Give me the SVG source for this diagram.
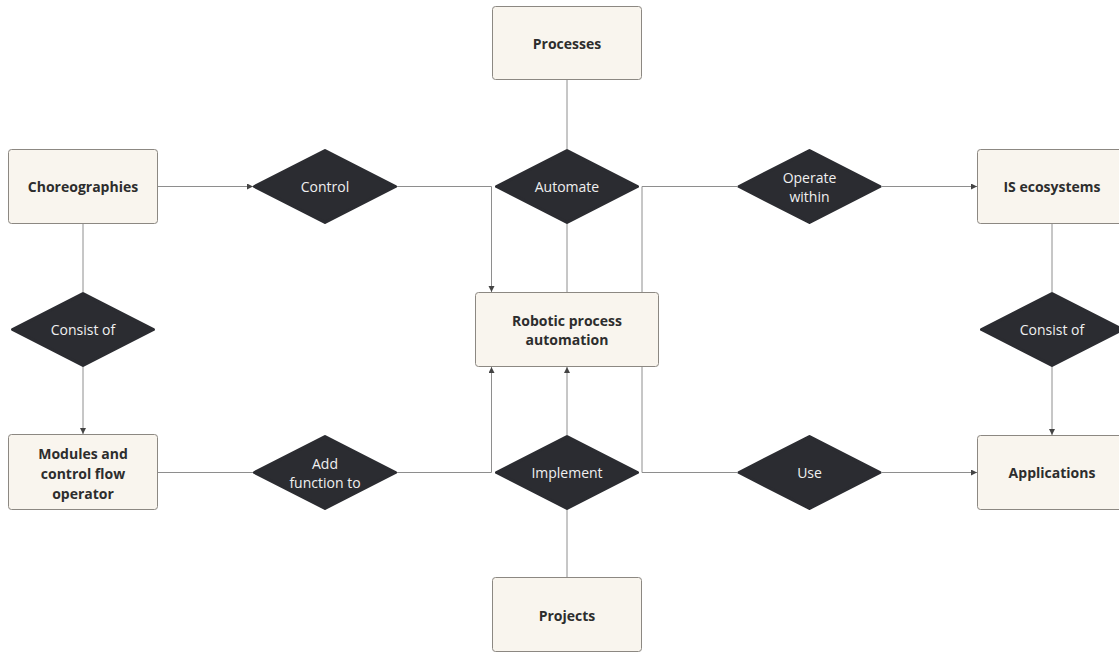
<svg xmlns="http://www.w3.org/2000/svg" width="1119" height="654" viewBox="0 0 1119 654">
  <style>
    .box { fill: #f9f5ee; stroke: #8c8882; stroke-width: 1; }
    .dia { fill: #2b2c31; stroke: #2b2c31; stroke-width: 3; stroke-linejoin: round; }
    .bt { font-family: "Open Sans", "Noto Sans", sans-serif; font-size: 14px; font-weight: 700; fill: #2d2d2d; text-anchor: middle; dominant-baseline: central; }
    .dt { font-family: "Open Sans", "Noto Sans", sans-serif; font-size: 14px; font-weight: 400; fill: #f0f0f0; text-anchor: middle; dominant-baseline: central; }
    .ln { fill: none; stroke: #8e8e8e; stroke-width: 1; }
  </style>
  <defs>
    <marker id="arr" markerUnits="userSpaceOnUse" markerWidth="8" markerHeight="8" refX="6" refY="3" orient="auto">
      <path d="M0,0 L6,3 L0,6 Z" fill="#444"/>
    </marker>
  </defs>
  <rect width="1119" height="654" fill="#ffffff"/>

  <g id="connectors">
    <path class="ln" d="M158,186.5 H253" marker-end="url(#arr)"/>
    <path class="ln" d="M397,186.5 H491.5 V292" marker-end="url(#arr)"/>
    <path class="ln" d="M567,80 V149"/>
    <path class="ln" d="M567,224 V292"/>
    <path class="ln" d="M642,292 V186.5 H737"/>
    <path class="ln" d="M882,186.5 H977" marker-end="url(#arr)"/>
    <path class="ln" d="M1052,224 V292"/>
    <path class="ln" d="M1052,367 V435" marker-end="url(#arr)"/>
    <path class="ln" d="M83,224 V292"/>
    <path class="ln" d="M83,367 V434" marker-end="url(#arr)"/>
    <path class="ln" d="M158,472.5 H253"/>
    <path class="ln" d="M397,472.5 H491.5 V367" marker-end="url(#arr)"/>
    <path class="ln" d="M567,577 V510"/>
    <path class="ln" d="M567,435 V367" marker-end="url(#arr)"/>
    <path class="ln" d="M642,367 V472.5 H737"/>
    <path class="ln" d="M882,472.5 H977" marker-end="url(#arr)"/>
  </g>

  <g id="processes">
    <rect class="box" x="492.5" y="6.5" width="149" height="73" rx="3"/>
    <text class="bt" x="567" y="43">Processes</text>
  </g>
  <g id="choreographies">
    <rect class="box" x="8.5" y="149.5" width="149" height="74" rx="3"/>
    <text class="bt" x="83" y="186.5">Choreographies</text>
  </g>
  <g id="is-ecosystems">
    <rect class="box" x="977.5" y="149.5" width="149" height="74" rx="3"/>
    <text class="bt" x="1052" y="186.5">IS ecosystems</text>
  </g>
  <g id="rpa">
    <rect class="box" x="475.5" y="292.5" width="183" height="74" rx="3"/>
    <text class="bt" x="567" y="320">Robotic process</text>
    <text class="bt" x="567" y="339.5">automation</text>
  </g>
  <g id="modules">
    <rect class="box" x="8.5" y="434.5" width="149" height="75" rx="3"/>
    <text class="bt" x="83" y="453">Modules and</text>
    <text class="bt" x="83" y="473">control flow</text>
    <text class="bt" x="83" y="493">operator</text>
  </g>
  <g id="applications">
    <rect class="box" x="977.5" y="435.5" width="149" height="74" rx="3"/>
    <text class="bt" x="1052" y="472.5">Applications</text>
  </g>
  <g id="projects">
    <rect class="box" x="492.5" y="577.5" width="149" height="74" rx="3"/>
    <text class="bt" x="567" y="615">Projects</text>
  </g>

  <g id="control">
    <polygon class="dia" points="325,150.5 395.5,186.5 325,222.5 254.5,186.5"/>
    <text class="dt" x="325" y="186.5">Control</text>
  </g>
  <g id="automate">
    <polygon class="dia" points="567,150.5 637.5,186.5 567,222.5 496.5,186.5"/>
    <text class="dt" x="567" y="186.5">Automate</text>
  </g>
  <g id="operate-within">
    <polygon class="dia" points="809.5,150.5 880,186.5 809.5,222.5 739,186.5"/>
    <text class="dt" x="809.5" y="177">Operate</text>
    <text class="dt" x="809.5" y="196">within</text>
  </g>
  <g id="consist-of-left">
    <polygon class="dia" points="83,293.5 153.5,329.5 83,365.5 12.5,329.5"/>
    <text class="dt" x="83" y="329.5">Consist of</text>
  </g>
  <g id="consist-of-right">
    <polygon class="dia" points="1052,293.5 1122.5,329.5 1052,365.5 981.5,329.5"/>
    <text class="dt" x="1052" y="329.5">Consist of</text>
  </g>
  <g id="add-function-to">
    <polygon class="dia" points="325,436.5 395.5,472.5 325,508.5 254.5,472.5"/>
    <text class="dt" x="325" y="463">Add</text>
    <text class="dt" x="325" y="482">function to</text>
  </g>
  <g id="implement">
    <polygon class="dia" points="567,436.5 637.5,472.5 567,508.5 496.5,472.5"/>
    <text class="dt" x="567" y="472.5">Implement</text>
  </g>
  <g id="use">
    <polygon class="dia" points="809.5,436.5 880,472.5 809.5,508.5 739,472.5"/>
    <text class="dt" x="809.5" y="472.5">Use</text>
  </g>
</svg>
